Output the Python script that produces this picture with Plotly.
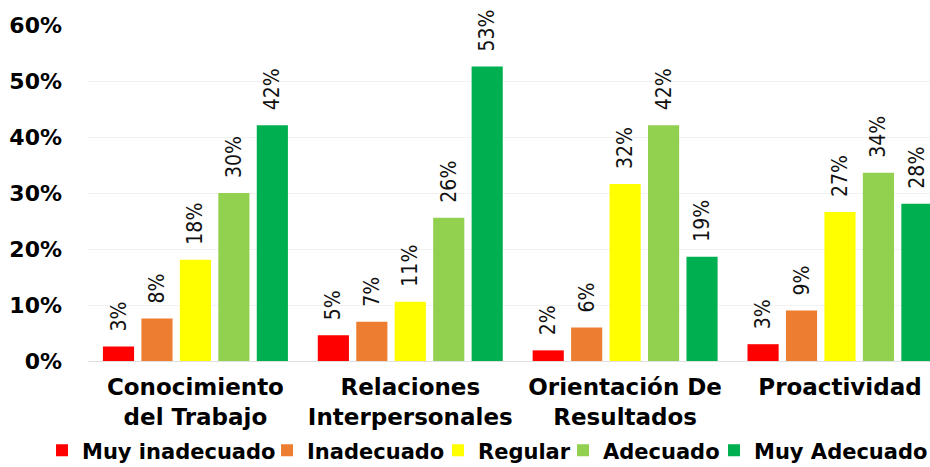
import plotly.graph_objects as go

# Dimensiones evaluadas y distribución porcentual por nivel
categories = ["Conocimiento<br>del Trabajo", "Relaciones<br>Interpersonales",
              "Orientación De<br>Resultados", "Proactividad"]
levels = ["Muy inadecuado", "Inadecuado", "Regular", "Adecuado", "Muy Adecuado"]
muy_inadecuado = [0.026, 0.046, 0.019, 0.030]
inadecuado = [0.076, 0.070, 0.060, 0.090]
regular = [0.181, 0.106, 0.316, 0.266]
adecuado = [0.300, 0.256, 0.421, 0.336]
muy_adecuado = [0.421, 0.526, 0.186, 0.281]
y_ticks = [0, 0.1, 0.2, 0.3, 0.4, 0.5, 0.6]

series = [muy_inadecuado, inadecuado, regular, adecuado, muy_adecuado]
colors = ["#FF0000", "#ED7D31", "#FFFF00", "#92D050", "#00B050"]
# ancho reservado a cada entrada de la leyenda (px)
legend_widths = [180, 126, 80, 106, 170]

cat_font = dict(family="DejaVu Sans", size=23, color="#000000", weight="bold")
tick_font = dict(family="DejaVu Sans", size=22, color="#000000", weight="bold")
label_font = dict(family="DejaVu Sans Condensed, Liberation Sans Narrow, Arial Narrow",
                  size=21, color="#111111")

fig = go.Figure()
for name, vals, col, lw in zip(levels, series, colors, legend_widths):
    fig.add_trace(go.Bar(
        name=name,
        x=list(range(len(categories))),
        y=vals,
        marker=dict(color=col, line=dict(width=0)),
        texttemplate="\u00a0\u00a0%{y:.0%}",
        textposition="outside",
        textangle=-90,
        textfont=label_font,
        cliponaxis=False,
        constraintext="none",
        legendwidth=lw,
    ))

fig.update_layout(
    width=930, height=467,
    margin=dict(l=88, r=0, t=25, b=106, autoexpand=False),
    paper_bgcolor="white", plot_bgcolor="white",
    barmode="group", bargap=0.105, bargroupgap=0.19,
    showlegend=True,
    legend=dict(orientation="h", x=-0.0546, xanchor="left", y=-0.206, yanchor="top",
                font=dict(family="DejaVu Sans", size=21, color="#000000", weight="bold"),
                itemwidth=30, traceorder="normal", bgcolor="rgba(0,0,0,0)"),
    xaxis=dict(range=[-0.5, 3.419], tickmode="array",
               tickvals=list(range(len(categories))), ticktext=categories,
               tickfont=cat_font, showgrid=False, showline=False, ticks="",
               ticklabelstandoff=10),
    yaxis=dict(range=[0, 0.6], tickmode="array", tickvals=y_ticks,
               ticktext=[f"{int(round(v * 100))}%" for v in y_ticks],
               tickfont=tick_font, showgrid=True, gridcolor="#F2F2F2", gridwidth=1,
               zeroline=True, zerolinecolor="#E0E0E0", zerolinewidth=1,
               showline=False, ticks="", ticklabelstandoff=25),
)

fig.write_html("out.html")
